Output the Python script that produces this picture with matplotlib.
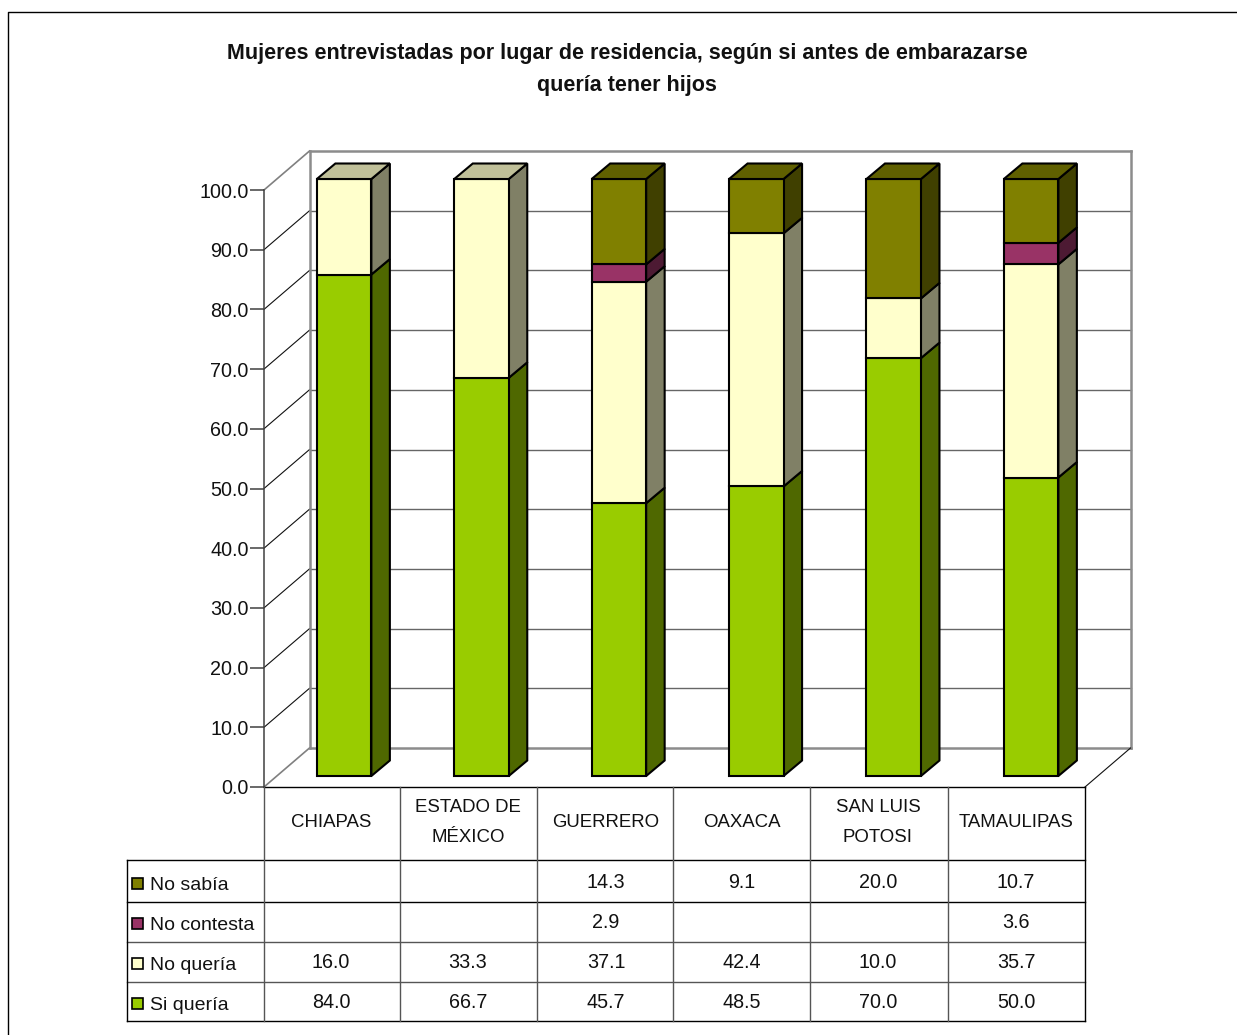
import numpy as np
import matplotlib.pyplot as plt
from matplotlib.patches import Polygon, Rectangle

plt.rcParams['font.family'] = ['Liberation Sans', 'DejaVu Sans']

title = 'Mujeres entrevistadas por lugar de residencia, según si antes de embarazarse\nquería tener hijos'
estados = ['CHIAPAS', 'ESTADO DE\nMÉXICO', 'GUERRERO', 'OAXACA', 'SAN LUIS\nPOTOSI', 'TAMAULIPAS']
si_queria = [84.0, 66.7, 45.7, 48.5, 70.0, 50.0]
no_queria = [16.0, 33.3, 37.1, 42.4, 10.0, 35.7]
no_contesta = [0, 0, 2.9, 0, 0, 3.6]
no_sabia = [0, 0, 14.3, 9.1, 20.0, 10.7]

# stack order, bottom to top
nombres = ['Si quería', 'No quería', 'No contesta', 'No sabía']
series = [si_queria, no_queria, no_contesta, no_sabia]
color_frente = ['#99CC00', '#FFFFCC', '#993366', '#808000']
color_lado = ['#4F6800', '#808066', '#4D1A33', '#404000']
color_tapa = ['#73994D', '#C0C099', '#732650', '#606000']

W, H = 1237, 1035
fig = plt.figure(figsize=(W / 100, H / 100), dpi=100)

# overlay in pixels for the frame, title and table
tab = fig.add_axes([0, 0, 1, 1], zorder=2)
tab.set_xlim(0, W)
tab.set_ylim(H, 0)
tab.axis('off')
tab.patch.set_alpha(0)

# main axes is the front plane of the 3D box
x0, x1, y0, y1 = 264, 1085, 787, 190
ax = fig.add_axes([x0 / W, 1 - y0 / H, (x1 - x0) / W, (y0 - y1) / H], zorder=1)
n = len(estados)
ax.set_xlim(0, n)
ax.set_ylim(0, 100)
ax.patch.set_alpha(0)
for s in ['top', 'right', 'bottom']:
    ax.spines[s].set_visible(False)
ax.spines['left'].set_color('#404040')
ax.spines['left'].set_linewidth(1.1)
ax.set_xticks([])
yticks = np.arange(0, 101, 10)
ax.set_yticks(yticks)
ax.set_yticklabels(['%.1f' % v for v in yticks], fontsize=14.2, color='#111111')
ax.tick_params(axis='y', length=10, width=1.1, color='#404040', pad=1)

# depth of the box and of the bars, in data units
px = n / (x1 - x0)
py = 100 / (y0 - y1)
prof_x, prof_y = 45.5 * px, 39 * py
desp_x, desp_y = 11.7 * px, 11 * py
lado_x, lado_y = 18.5 * px, 15.5 * py
ancho = 54.5 * px
paso = 137.4 * px

# walls
for v in yticks:
    col = '#8C8C8C' if v in (0, 100) else '#666666'
    lw = 1.8 if v in (0, 100) else 1.0
    ax.plot([prof_x, n + prof_x], [v + prof_y] * 2, color=col, lw=lw, clip_on=False, zorder=1)
    dcol = '#808080' if v in (0, 100) else '#111111'
    ax.plot([0, prof_x], [v, v + prof_y], color=dcol, lw=1.2 if v in (0, 100) else 0.8, clip_on=False, zorder=1)
for xb in [prof_x, n + prof_x]:
    ax.plot([xb, xb], [prof_y, 100 + prof_y], color='#8C8C8C', lw=1.8, clip_on=False, zorder=1)
ax.plot([n, n + prof_x], [0, prof_y], color='#111111', lw=0.8, clip_on=False, zorder=1)

# stacked pseudo-3D bars
z = 3
for i in range(n):
    xl = 0.5 + desp_x - ancho / 2 + i * paso
    xr = xl + ancho
    base = 0.0
    for j, vals in enumerate(series):
        v = vals[i]
        if v == 0:
            continue
        b, t = base + desp_y, base + v + desp_y
        ax.add_patch(Polygon([(xr, b), (xr + lado_x, b + lado_y), (xr + lado_x, t + lado_y), (xr, t)],
                             fc=color_lado[j], ec='black', lw=1.5, zorder=z, clip_on=False))
        ax.add_patch(Rectangle((xl, b), ancho, v, fc=color_frente[j], ec='black', lw=1.5, zorder=z + 1, clip_on=False))
        base += v
        ultimo = j
    t = base + desp_y
    ax.add_patch(Polygon([(xl, t), (xr, t), (xr + lado_x, t + lado_y), (xl + lado_x, t + lado_y)],
                         fc=color_tapa[ultimo], ec='black', lw=1.5, zorder=z + 1, clip_on=False))
    z += 2

# outer frame, runs off the right and bottom of the picture
tab.plot([W, 8, 8], [12, 12, H], color='black', lw=1.0)

tab.text(627, 69.5, title, ha='center', va='center', fontsize=15.5, fontweight='bold', color='#111111', linespacing=1.68)

# data table
col_x = [264, 400, 537, 673, 810, 948, 1085]
fila_y = [860, 902, 942, 982, 1021]
izq = 127
col_centro = [331, 468, 606, 742, 878, 1016]
fila_centro = [881, 921, 961, 1001]
fs = 14.2

tab.plot([x0, x1], [y0, y0], color='black', lw=1.0)
for yy, c in zip(fila_y, ['black', 'black', '#555555', '#555555', 'black']):
    tab.plot([izq, x1], [yy, yy], color=c, lw=1.0)
tab.plot([izq, izq], [fila_y[0], fila_y[-1]], color='black', lw=1.0)
for k, xx in enumerate(col_x):
    tab.plot([xx, xx], [y0, fila_y[-1]], color='black' if k == len(col_x) - 1 else '#555555', lw=1.0)

for cx, e in zip(col_centro, estados):
    # one-line names sit in the middle of the cell, two-line ones spread around it
    tab.text(cx, 822.5, e, ha='center', va='center', fontsize=13.4, linespacing=1.95, color='#111111')

orden = [3, 2, 1, 0]  # table lists the stack from the top down
for cy, j in zip(fila_centro, orden):
    tab.add_patch(Rectangle((132, cy - 3), 11, 11, fc=color_frente[j], ec='black', lw=1.2))
    tab.text(150, cy + 5, nombres[j], ha='left', va='center', fontsize=14, color='#111111')
    for cx, v in zip(col_centro, series[j]):
        if v:
            tab.text(cx, cy + 2, '%.1f' % v, ha='center', va='center', fontsize=fs, color='#111111')

fig.savefig('out.png', dpi=100, facecolor='white')
